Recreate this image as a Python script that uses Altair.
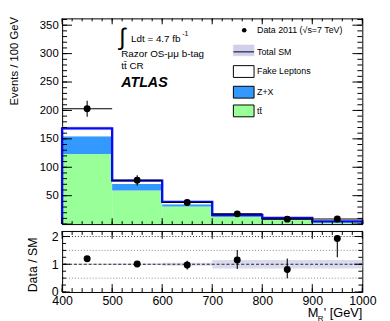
import altair as alt
import pandas as pd

# ---------------- data ----------------
edges = [400, 500, 600, 700, 800, 900, 1000]
ttbar = [123.5, 59.0, 31.0, 13.0, 8.0, 3.0]
zplusx = [31.0, 11.5, 4.0, 2.0, 2.0, 1.0]
fake = [14.0, 6.0, 4.0, 1.0, 0.8, 0.7]
data_obs = [203.0, 77.0, 38.0, 18.0, 8.7, 9.0]
data_err = [14.0, 9.0, 6.0, 5.0, 3.7, 3.2]
ratio_vals = [1.20, 1.01, 0.97, 1.15, 0.81, 1.93]
ratio_err_up = [0.08, 0.11, 0.16, 0.36, 0.40, 0.12]
ratio_err_dn = [0.08, 0.11, 0.16, 0.32, 0.31, 0.68]
band_rel = [0.02, 0.03, 0.05, 0.15, 0.15, 0.15]

components = ["tt\u0304", "Z+X", "Fake Leptons"]
comp_colors = ["#99ff99", "#3399ff", "#ffffff"]

x_major = [400, 500, 600, 700, 800, 900, 1000]
x_minor = list(range(400, 1001, 20))
y_major_main = [0, 50, 100, 150, 200, 250, 300, 350]
y_minor_main = list(range(0, 361, 10))
y_labels_main = [50, 100, 150, 200, 250, 300, 350]
y_major_rat = [0, 1, 2]
y_minor_rat = [0, 0.25, 0.5, 0.75, 1.0, 1.25, 1.5, 1.75, 2.0]
ratio_dotted = [0.5, 1.5]
ratio_dotted_dark = [2.0]
ratio_dashed = [1.0]

FONT = "Liberation Sans"
W, HM, HR = 305, 209, 62

lo = edges[:-1]
hi = edges[1:]
mid = [(a + b) / 2 for a, b in zip(lo, hi)]
total = [a + b + c for a, b, c in zip(ttbar, zplusx, fake)]

# stacked table
rows = []
for i in range(len(lo)):
    base = 0.0
    for comp, vals in zip(components, [ttbar, zplusx, fake]):
        rows.append({"lo": lo[i], "hi": hi[i], "y0": base, "y1": base + vals[i], "comp": comp})
        base += vals[i]
stack_df = pd.DataFrame(rows)

band_df = pd.DataFrame({
    "lo": lo, "hi": hi,
    "b0": [t * (1 - r) for t, r in zip(total, band_rel)],
    "b1": [t * (1 + r) for t, r in zip(total, band_rel)],
    "r0": [1 - r for r in band_rel],
    "r1": [1 + r for r in band_rel],
})

line_df = pd.DataFrame({
    "x": [edges[0]] + edges,
    "y": [0.0] + total + [0.0],
    "o": list(range(len(edges) + 1)),
})

pts_df = pd.DataFrame({
    "lo": lo, "hi": hi, "mid": mid, "d": data_obs,
    "d0": [d - e for d, e in zip(data_obs, data_err)],
    "d1": [d + e for d, e in zip(data_obs, data_err)],
    "r": ratio_vals,
    "r0": [r - e for r, e in zip(ratio_vals, ratio_err_dn)],
    "r1": [r + e for r, e in zip(ratio_vals, ratio_err_up)],
})

xs = alt.Scale(domain=[400, 1000], nice=False, zero=False)
ysm = alt.Scale(domain=[0, 362], nice=False, zero=False)
ysr = alt.Scale(domain=[0, 2.2], nice=False, zero=False)

y_axis_main = alt.Axis(values=y_labels_main, ticks=False, domain=False, grid=False,
                       labelFontSize=11.5, labelPadding=4, labelFont=FONT,
                       title="Events / 100 GeV", titleFont=FONT, titleFontSize=11.5,
                       titleFontWeight="normal", titleAngle=270, titleX=-48, titleY=-2,
                       titleAlign="right", titleBaseline="middle")
x_axis_rat = alt.Axis(values=x_major, ticks=False, domain=False, grid=False,
                      labelFontSize=12.5, labelPadding=3, labelFlush=False, labelFont=FONT,
                      title=None, format="d")
y_axis_rat = alt.Axis(values=y_major_rat, ticks=False, domain=False, grid=False,
                      labelFontSize=12.5, labelPadding=4, labelFont=FONT,
                      title="Data / SM", titleFont=FONT, titleFontSize=12.5,
                      titleFontWeight="normal", titleAngle=270, titleX=-30, titleY=34,
                      titleAlign="center", titleBaseline="middle")

one = pd.DataFrame({"a": [0]})


def X(field, axis=None):
    return alt.X(field, type="quantitative", scale=xs, axis=axis)


def txt(s, x, y, size=10, align="left", baseline="alphabetic", weight="normal", style="normal", color="black"):
    return alt.Chart(one).mark_text(text=s, font=FONT, fontSize=size, align=align, baseline=baseline,
                                    fontWeight=weight, fontStyle=style, color=color).encode(
        x=alt.value(x), y=alt.value(y))


def box(x0, x1, y0, y1, fill, stroke="black", sw=1.0, opacity=1.0):
    return alt.Chart(one).mark_rect(fill=fill, stroke=stroke, strokeWidth=sw, opacity=opacity).encode(
        x=alt.value(x0), x2=alt.value(x1), y=alt.value(y0), y2=alt.value(y1))


def tick_layers(xvals, xlen, yvals, ylen, ysc, yaxis, xaxis, H):
    out = []
    dx = pd.DataFrame({"v": xvals})
    dy = pd.DataFrame({"v": yvals})
    out.append(alt.Chart(dx).mark_rule(color="black", strokeWidth=1).encode(
        x=X("v", xaxis), y=alt.value(H), y2=alt.value(H - xlen)))
    out.append(alt.Chart(dx).mark_rule(color="black", strokeWidth=1).encode(
        x=X("v", xaxis), y=alt.value(0), y2=alt.value(xlen)))
    out.append(alt.Chart(dy).mark_rule(color="black", strokeWidth=1).encode(
        y=alt.Y("v:Q", scale=ysc, axis=yaxis), x=alt.value(0), x2=alt.value(ylen)))
    out.append(alt.Chart(dy).mark_rule(color="black", strokeWidth=1).encode(
        y=alt.Y("v:Q", scale=ysc, axis=yaxis), x=alt.value(W - ylen), x2=alt.value(W)))
    return out


# ---------------- main panel ----------------
stack = alt.Chart(stack_df).mark_rect(strokeWidth=0).encode(
    x=X("lo"), x2="hi",
    y=alt.Y("y0:Q", scale=ysm, axis=y_axis_main), y2="y1",
    color=alt.Color("comp:N", scale=alt.Scale(domain=components, range=comp_colors), legend=None),
)
band_main = alt.Chart(band_df).mark_rect(fill="#c8c8e8", opacity=0.6, strokeWidth=0).encode(
    x=X("lo"), x2="hi", y=alt.Y("b0:Q", scale=ysm, axis=y_axis_main), y2="b1")
total_line = alt.Chart(line_df).mark_line(interpolate="step-after", color="#0a0af0", strokeWidth=2.4).encode(
    x=X("x"), y=alt.Y("y:Q", scale=ysm, axis=y_axis_main), order="o:Q")
err_v = alt.Chart(pts_df).mark_rule(color="black", strokeWidth=1.1).encode(
    x=X("mid"), y=alt.Y("d0:Q", scale=ysm, axis=y_axis_main), y2="d1")
err_h = alt.Chart(pts_df).mark_rule(color="black", strokeWidth=1.1).encode(
    x=X("lo"), x2="hi", y=alt.Y("d:Q", scale=ysm, axis=y_axis_main))
pts = alt.Chart(pts_df).mark_circle(color="black", opacity=1, size=50).encode(
    x=X("mid"), y=alt.Y("d:Q", scale=ysm, axis=y_axis_main))

main_ticks = tick_layers(x_major, 6, y_major_main, 10, ysm, y_axis_main, None, HM) + \
    tick_layers(x_minor, 3, y_minor_main, 5, ysm, y_axis_main, None, HM)

annot = [
    txt("\u222b", 58, 27, size=24),
    txt("Ldt = 4.7 fb", 70, 24, size=10),
    txt("-1", 122, 18, size=7),
    txt("Razor OS-\u03bc\u03bc b-tag", 60, 39, size=10),
    txt("t\u0074\u0304 CR", 60, 51, size=10),
    txt("ATLAS", 60, 70, size=14.5, weight="bold", style="italic"),
]

legend = [
    alt.Chart(one).mark_circle(color="black", opacity=1, size=22).encode(x=alt.value(185), y=alt.value(12)),
    txt("Data 2011 (\u221as=7 TeV)", 198, 12, size=9, baseline="middle"),
    box(174, 195, 27, 38, "#d0d0ea", stroke="#d0d0ea", sw=0.5),
    alt.Chart(one).mark_rule(color="#202040", strokeWidth=1.2).encode(
        x=alt.value(174), x2=alt.value(195), y=alt.value(34)),
    txt("Total SM", 198, 34, size=9, baseline="middle"),
    box(174, 195, 48, 60, "#ffffff"),
    txt("Fake Leptons", 198, 54, size=9, baseline="middle"),
    box(174, 195, 69, 81, "#3399ff"),
    txt("Z+X", 198, 75, size=9, baseline="middle"),
    box(174, 195, 88, 100, "#99ff99"),
    txt("t\u0074\u0304", 198, 94, size=9, baseline="middle"),
]

main = alt.layer(stack, band_main, total_line, err_h, err_v, pts, *main_ticks, *annot, *legend).properties(
    width=W, height=HM)

# ---------------- ratio panel ----------------
band_rat = alt.Chart(band_df).mark_rect(fill="#d4d4ec", opacity=0.85, strokeWidth=0).encode(
    x=X("lo", x_axis_rat), x2="hi", y=alt.Y("r0:Q", scale=ysr, axis=y_axis_rat), y2="r1")
dot_lines = alt.Chart(pd.DataFrame({"v": ratio_dotted})).mark_rule(
    color="#888888", strokeWidth=1, strokeDash=[1, 2]).encode(y=alt.Y("v:Q", scale=ysr, axis=y_axis_rat))
dot_dark = alt.Chart(pd.DataFrame({"v": ratio_dotted_dark})).mark_rule(
    color="#333333", strokeWidth=1, strokeDash=[1, 2]).encode(y=alt.Y("v:Q", scale=ysr, axis=y_axis_rat))
dash_line = alt.Chart(pd.DataFrame({"v": ratio_dashed})).mark_rule(
    color="#222222", strokeWidth=1, strokeDash=[3, 2]).encode(y=alt.Y("v:Q", scale=ysr, axis=y_axis_rat))
rerr = alt.Chart(pts_df).mark_rule(color="black", strokeWidth=1.1, clip=True).encode(
    x=X("mid", x_axis_rat), y=alt.Y("r0:Q", scale=ysr, axis=y_axis_rat), y2="r1")
rpts = alt.Chart(pts_df).mark_circle(color="black", opacity=1, size=50).encode(
    x=X("mid", x_axis_rat), y=alt.Y("r:Q", scale=ysr, axis=y_axis_rat))

rat_ticks = tick_layers(x_major, 8, y_major_rat, 8, ysr, y_axis_rat, x_axis_rat, HR) + \
    tick_layers(x_minor, 4, y_minor_rat, 4, ysr, y_axis_rat, x_axis_rat, HR)

xtitle = [
    txt("M", 260.5, 87, size=13, align="right"),
    txt("R", 265.5, 91, size=8, align="right"),
    txt("' [GeV]", 305, 87, size=13, align="right"),
]

ratio = alt.layer(band_rat, dot_lines, dot_dark, dash_line, rerr, rpts, *rat_ticks, *xtitle).properties(
    width=W, height=HR)

chart = alt.vconcat(main, ratio, spacing=0).properties(
    padding={"left": 0, "top": 5, "right": 5, "bottom": 0}
).configure_view(stroke="black", strokeWidth=1).configure_axis(
    labelColor="black", titleColor="black"
)

chart.save("out.html", embed_options={"renderer": "svg", "actions": False})
